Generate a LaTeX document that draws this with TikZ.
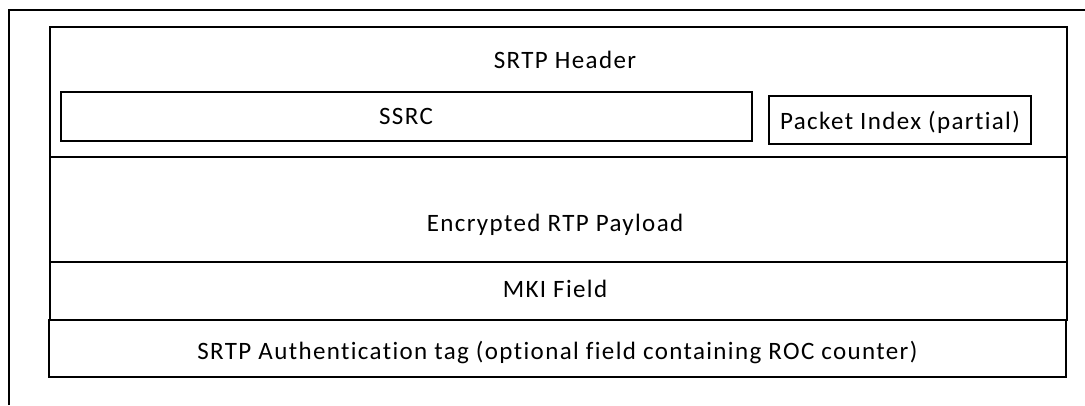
\documentclass[tikz,border=0pt]{standalone}
\usepackage{fontspec}
\setmainfont{Carlito}[LetterSpace=5.5,Ligatures={NoCommon}]
\begin{document}
\begin{tikzpicture}[x=1pt,y=-1pt,
  box/.style={draw=black,line width=1.2pt,rectangle,inner sep=0pt,fill=none},
  lbl/.style={anchor=base,inner sep=0pt,font=\fontsize{25}{30}\selectfont}]
\useasboundingbox (0,0) rectangle (1085,405);
\fill[white] (0,0) rectangle (1085,405);
% outer frame
\draw[line width=1.2pt] (9,405) -- (9,10) -- (1085,10);
% rows
\node[box,minimum width=1017pt,minimum height=130pt] (hdr) at (558.5,92) {};
\node[box,minimum width=1017pt,minimum height=105pt] (pay) at (558.5,209.5) {};
\node[box,minimum width=1017pt,minimum height=58pt] (mki) at (558.5,291) {};
\node[box,minimum width=1017pt,minimum height=57pt] (auth) at (557.5,348.5) {};
% inner header boxes
\node[box,minimum width=691pt,minimum height=49pt] (ssrc) at (406.5,116.5) {};
\node[box,minimum width=262pt,minimum height=48pt] (pidx) at (900,120) {};
% labels
\node[lbl] (hdrt) at (565,68) {SRTP Header};
\node[lbl] (ssrct) at (406,124) {SSRC};
\node[lbl] (pidxt) at (900,129) {Packet Index (partial)};
\node[lbl] (payt) at (555,231.5) {Encrypted RTP Payload};
\node[lbl] (mkit) at (555,297.5) {MKI Field};
\node[lbl] (autht) at (557.5,359) {SRTP Authentication tag (optional field containing ROC counter)};
\end{tikzpicture}
\end{document}
